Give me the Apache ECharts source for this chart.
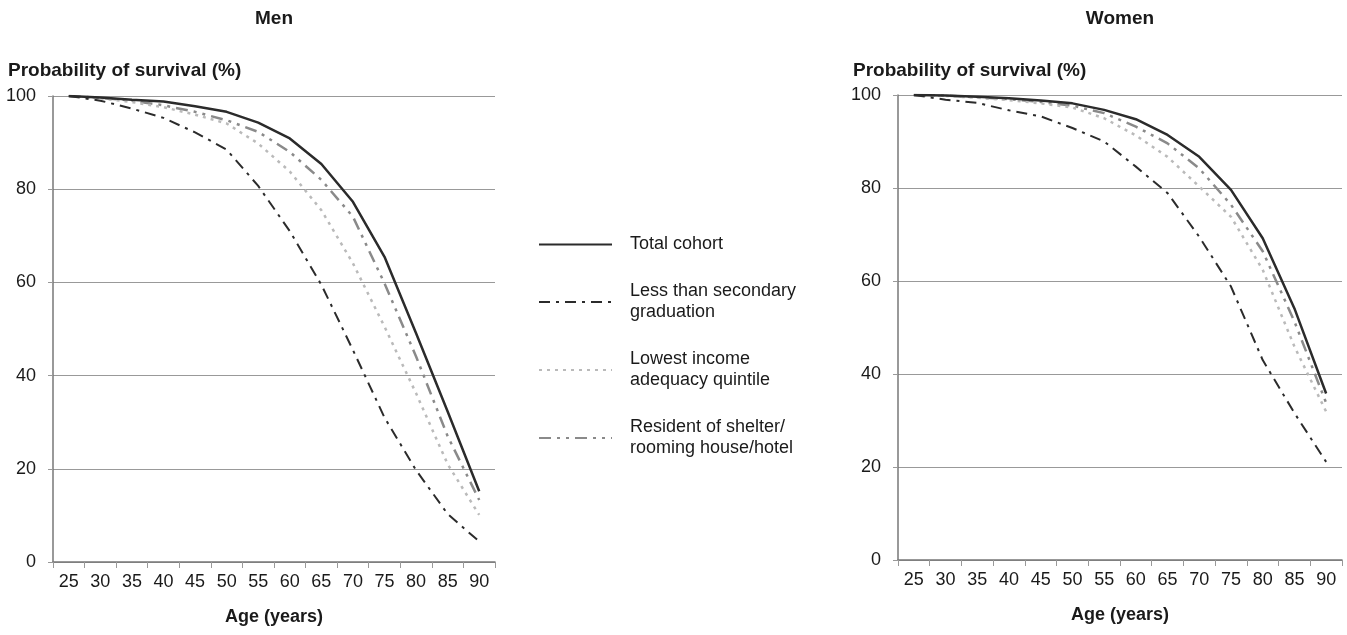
<!DOCTYPE html>
<html>
<head>
<meta charset="utf-8">
<script src="https://cdn.jsdelivr.net/npm/echarts@6/dist/echarts.min.js"></script>
<style>
  html, body { margin: 0; padding: 0; background: #fff; }
  #main { width: 1347px; height: 635px; }
</style>
</head>
<body>
<div id="main"></div>
<script>
  // age groups on the x axis
  const ages = ['25', '30', '35', '40', '45', '50', '55', '60', '65', '70', '75', '80', '85', '90']
  const seriesNames = [
    'Total cohort',
    'Less than secondary graduation',
    'Lowest income adequacy quintile',
    'Resident of shelter/rooming house/hotel'
  ]

  // Men: probability of survival (%)
  const menTotal = [100, 99.7, 99.2, 98.8, 97.8, 96.6, 94.3, 90.9, 85.4, 77.3, 65.5, 49.1, 32.3, 15.2]
  const menLessSecondary = [100, 99.0, 97.3, 95.3, 92.2, 88.5, 80.7, 71.0, 59.5, 45.5, 31.0, 19.7, 10.3, 4.4]
  const menLowIncome = [100, 99.5, 98.7, 97.6, 96.0, 94.1, 89.8, 83.8, 75.5, 64.1, 50.5, 36.2, 21.0, 10.1]
  const menShelter = [100, 99.6, 99.0, 98.0, 96.6, 94.8, 92.3, 88.0, 82.0, 74.1, 59.8, 44.1, 27.0, 13.3]

  // Women: probability of survival (%)
  const womenTotal = [100, 99.9, 99.6, 99.3, 98.8, 98.2, 96.8, 94.8, 91.4, 86.7, 79.6, 69.2, 54.1, 35.8]
  const womenLessSecondary = [100, 99.0, 98.3, 96.7, 95.4, 92.9, 90.0, 84.6, 78.9, 69.5, 58.8, 43.0, 31.6, 21.1]
  const womenLowIncome = [100, 99.8, 99.4, 98.9, 98.2, 97.3, 95.0, 91.3, 86.7, 80.3, 73.8, 62.4, 45.9, 31.9]
  const womenShelter = [100, 99.9, 99.5, 99.1, 98.5, 97.7, 96.1, 93.2, 89.6, 84.2, 76.4, 66.4, 51.3, 33.8]

  const yTicks = [0, 20, 40, 60, 80, 100]

  const font = '"Liberation Sans", Arial, sans-serif'
  const styles = [
    { color: '#2b2b2b', width: 2.5, type: 'solid' },
    { color: '#2b2b2b', width: 2, type: [11, 6, 3, 6] },
    { color: '#bababa', width: 2.5, type: [3, 5] },
    { color: '#8a8a8a', width: 2.5, type: [12, 6, 3, 6, 3, 6] }
  ]

  function makeX(idx) {
    return {
      type: 'category', gridIndex: idx, data: ages, boundaryGap: true,
      name: 'Age (years)', nameLocation: 'middle', nameGap: 46,
      nameTextStyle: { fontFamily: font, fontSize: 18, fontWeight: 'bold', color: '#1a1a1a' },
      axisLine: { lineStyle: { color: '#777', width: 1.5 } },
      axisTick: { show: true, length: 6, lineStyle: { color: '#999' } },
      axisLabel: { fontFamily: font, fontSize: 18, color: '#1a1a1a', margin: 11, interval: 0 }
    }
  }
  function makeY(idx) {
    return {
      type: 'value', gridIndex: idx, min: yTicks[0], max: yTicks[yTicks.length - 1], interval: 20,
      axisLine: { show: true, lineStyle: { color: '#777', width: 1.5 } },
      axisTick: { show: true, length: 5, lineStyle: { color: '#999' } },
      axisLabel: { fontFamily: font, fontSize: 18, color: '#1a1a1a', margin: 17 },
      splitLine: { lineStyle: { color: '#999', width: 1 } }
    }
  }
  function makeSeries(idx, lists) {
    return lists.map((vals, i) => ({
      name: seriesNames[i], type: 'line', xAxisIndex: idx, yAxisIndex: idx,
      data: vals, symbol: 'none', smooth: false, z: 10 - i,
      lineStyle: styles[i], itemStyle: { color: styles[i].color }
    }))
  }

  const legendLabels = {
    'Total cohort': 'Total cohort',
    'Less than secondary graduation': 'Less than secondary\ngraduation',
    'Lowest income adequacy quintile': 'Lowest income\nadequacy quintile',
    'Resident of shelter/rooming house/hotel': 'Resident of shelter/\nrooming house/hotel'
  }

  const chart = echarts.init(document.getElementById('main'))
  chart.setOption({
    animation: false,
    backgroundColor: '#fff',
    grid: [
      { left: 53, right: 852, top: 96, bottom: 73 },
      { left: 898, right: 5, top: 95, bottom: 75 }
    ],
    xAxis: [makeX(0), makeX(1)],
    yAxis: [makeY(0), makeY(1)],
    legend: {
      orient: 'vertical', left: 538, top: 234, padding: 0,
      itemWidth: 73, itemHeight: 14, itemGap: 26,
      data: seriesNames,
      formatter: n => legendLabels[n],
      itemStyle: { color: 'rgba(0,0,0,0)', borderWidth: 0, opacity: 0 },
      textStyle: { fontFamily: font, fontSize: 18, color: '#1a1a1a', lineHeight: 21, padding: [0, 0, 0, 13] }
    },
    graphic: [
      { type: 'text', x: 274, y: 19, style: { text: 'Men', font: 'bold 19px ' + font, fill: '#1a1a1a', align: 'center', verticalAlign: 'middle' } },
      { type: 'text', x: 1120, y: 19, style: { text: 'Women', font: 'bold 19px ' + font, fill: '#1a1a1a', align: 'center', verticalAlign: 'middle' } },
      { type: 'text', x: 8, y: 71, style: { text: 'Probability of survival (%)', font: 'bold 19px ' + font, fill: '#1a1a1a', align: 'left', verticalAlign: 'middle' } },
      { type: 'text', x: 853, y: 71, style: { text: 'Probability of survival (%)', font: 'bold 19px ' + font, fill: '#1a1a1a', align: 'left', verticalAlign: 'middle' } }
    ],
    series: makeSeries(0, [menTotal, menLessSecondary, menLowIncome, menShelter])
      .concat(makeSeries(1, [womenTotal, womenLessSecondary, womenLowIncome, womenShelter]))
  })
</script>
</body>
</html>
